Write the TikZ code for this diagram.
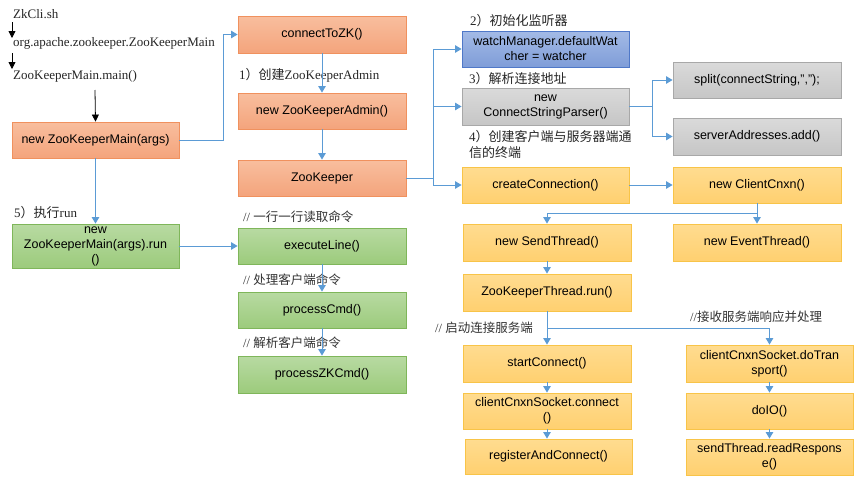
\documentclass[tikz,border=0pt]{standalone}
\usepackage{fontspec}
\setmainfont{Liberation Serif}
\setsansfont{Liberation Sans}
\newfontfamily\cjk{Noto Sans CJK SC}
\usetikzlibrary{arrows.meta}
\definecolor{lnblue}{HTML}{5B9BD5}
\definecolor{orT}{HTML}{F8BE9E}\definecolor{orB}{HTML}{F4A47C}\definecolor{orD}{HTML}{F0915E}
\definecolor{grT}{HTML}{B8DAA2}\definecolor{grB}{HTML}{9CCB7C}\definecolor{grD}{HTML}{7FB65A}
\definecolor{yeT}{HTML}{FFDC90}\definecolor{yeB}{HTML}{FFD070}\definecolor{yeD}{HTML}{F8C448}
\definecolor{gyT}{HTML}{DADADA}\definecolor{gyB}{HTML}{C6C6C6}\definecolor{gyD}{HTML}{A8A8A8}
\definecolor{blT}{HTML}{A3BAE6}\definecolor{blB}{HTML}{7F9DD8}\definecolor{blD}{HTML}{4F78C8}
\begin{document}
\begin{tikzpicture}[x=1pt,y=-1pt,
  box/.style={draw, line width=0.9pt, minimum width=167pt, minimum height=36pt,
    inner sep=1pt, align=center, font=\sffamily\fontsize{12.5}{15}\selectfont, text=black},
  orbox/.style={box, draw=orD, top color=orT, bottom color=orB},
  grbox/.style={box, draw=grD, top color=grT, bottom color=grB},
  yebox/.style={box, draw=yeD, top color=yeT, bottom color=yeB},
  gybox/.style={box, draw=gyD, top color=gyT, bottom color=gyB},
  blbox/.style={box, draw=blD, top color=blT, bottom color=blB},
  arr/.style={draw=lnblue, line width=1pt, -{Triangle[length=6.5pt,width=7.5pt]}},
  barr/.style={draw=black, line width=0.8pt, -{Triangle[length=7pt,width=7pt]}},
  lbl/.style={anchor=west, inner sep=0pt, font=\fontsize{13}{16}\selectfont, text=black!85},
  cmt/.style={anchor=west, inner sep=0pt, font=\fontsize{12.5}{16}\selectfont, text=black!80}
]
\useasboundingbox (0,0) rectangle (860,477);
\fill[white] (0,0) rectangle (860,477);

% top-left texts
\node[lbl] (t1) at (13,14) {ZkCli.sh};
\node[lbl] (t2) at (13,43) {org.apache.zookeeper.ZooKeeperMain};
\node[lbl] (t3) at (13,76) {ZooKeeperMain.main()};
\coordinate (a1s) at (12,22); \coordinate (a1e) at (12,38);
\coordinate (a2s) at (12,53); \coordinate (a2e) at (12,69);
\coordinate (a3s) at (95,90);

% boxes
\node[orbox, minimum width=167pt] (zkm) at (95.5,140) {new ZooKeeperMain(args)};
\node[grbox, minimum width=167pt, minimum height=44pt] (zkrun) at (95.5,246) {new\\ZooKeeperMain(args).run\\()};
\node[orbox, minimum width=168pt, minimum height=37pt] (conn) at (322,34.5) {connectToZK()};
\node[orbox, minimum width=168pt] (admin) at (322,111) {new ZooKeeperAdmin()};
\node[orbox, minimum width=168pt] (zk) at (322,178) {ZooKeeper};
\node[grbox, minimum width=168pt] (exec) at (322,246) {executeLine()};
\node[grbox, minimum width=168pt] (pcmd) at (322,310) {processCmd()};
\node[grbox, minimum width=168pt, minimum height=37pt] (pzk) at (322,374.5) {processZKCmd()};
\node[blbox] (watch) at (545.5,49) {watchManager.defaultWat\\cher = watcher};
\node[gybox, minimum height=37pt] (csp) at (545.5,106.5) {new\\ConnectStringParser()};
\node[yebox] (cc) at (545.5,185) {createConnection()};
\node[gybox, minimum width=168pt] (split) at (757,80) {split(connectString,",");};
\node[gybox, minimum width=168pt, minimum height=37pt] (sadd) at (757,136.5) {serverAddresses.add()};
\node[yebox, minimum width=168pt] (cnxn) at (757,185) {new ClientCnxn()};
\node[yebox, minimum width=168pt, minimum height=37pt] (send) at (547,242.5) {new SendThread()};
\node[yebox, minimum width=168pt, minimum height=37pt] (event) at (757,242.5) {new EventThread()};
\node[yebox, minimum width=168pt, minimum height=37pt] (ztr) at (547,292.5) {ZooKeeperThread.run()};
\node[yebox, minimum width=168pt, minimum height=37pt] (start) at (547,363.5) {startConnect()};
\node[yebox, minimum width=168pt] (ccs) at (547,411) {clientCnxnSocket.connect\\()};
\node[yebox, minimum height=35pt] (reg) at (548.5,456.5) {registerAndConnect()};
\node[yebox, minimum height=37pt] (dotr) at (769.5,363.5) {clientCnxnSocket.doTran\\sport()};
\node[yebox] (doio) at (769.5,411) {doIO()};
\node[yebox] (read) at (769.5,457) {sendThread.readRespons\\e()};

% labels
\node[lbl] (l1) at (239,75) {1{\cjk ）创建}ZooKeeperAdmin};
\node[lbl] (l2) at (470,21) {2{\cjk ）初始化监听器}};
\node[lbl] (l3) at (469,79) {3{\cjk ）解析连接地址}};
\node[lbl, anchor=north west, align=left] (l4) at (469,130) {4{\cjk ）创建客户端与服务器端通}\\{\cjk 信的终端}};
\node[lbl] (l5) at (14,213) {5{\cjk ）执行}run};
\node[cmt] (c1) at (243,217) {// {\cjk 一行一行读取命令}};
\node[cmt] (c2) at (243,280) {// {\cjk 处理客户端命令}};
\node[cmt] (c3) at (243,343) {// {\cjk 解析客户端命令}};
\node[cmt] (c4) at (435,328) {// {\cjk 启动连接服务端}};
\node[cmt] (c5) at (690,317) {//{\cjk 接收服务端响应并处理}};

% black arrows
\draw[barr] (a1s) -- (a1e);
\draw[barr] (a2s) -- (a2e);
\draw[barr] (a3s) -- (zkm.north);

% blue connectors
\coordinate (j0) at (223,140);
\draw[arr] (zkm.east) -- (j0) |- (conn.west);
\draw[arr] (zkm.south) -- (zkrun.north);
\draw[arr] (conn.south) -- (admin.north);
\draw[arr] (admin.south) -- (zk.north);
\coordinate (j1) at (433,178);
\draw[arr] (zk.east) -- (j1) |- (watch.west);
\draw[arr] (j1) |- (csp.west);
\draw[arr] (j1) |- (cc.west);
\coordinate (j2) at (652,106.5);
\draw[arr] (csp.east) -- (j2) |- (split.west);
\draw[arr] (j2) |- (sadd.west);
\draw[arr] (cc.east) -- (cnxn.west);
\coordinate (j3) at (757,213);
\draw[arr] (cnxn.south) -- (event.north);
\draw[arr] (j3) -| (send.north);
\draw[arr] (zkrun.east) -- (exec.west);
\draw[arr] (exec.south) -- (pcmd.north);
\draw[arr] (pcmd.south) -- (pzk.north);
\draw[arr] (send.south) -- (ztr.north);
\coordinate (j4) at (547,328);
\draw[arr] (ztr.south) -- (start.north);
\draw[arr] (j4) -| (dotr.north);
\draw[arr] (start.south) -- (ccs.north);
\draw[arr] (ccs.south) -- (ccs.south |- reg.north);
\draw[arr] (dotr.south) -- (doio.north);
\draw[arr] (doio.south) -- (read.north);
\end{tikzpicture}
\end{document}
